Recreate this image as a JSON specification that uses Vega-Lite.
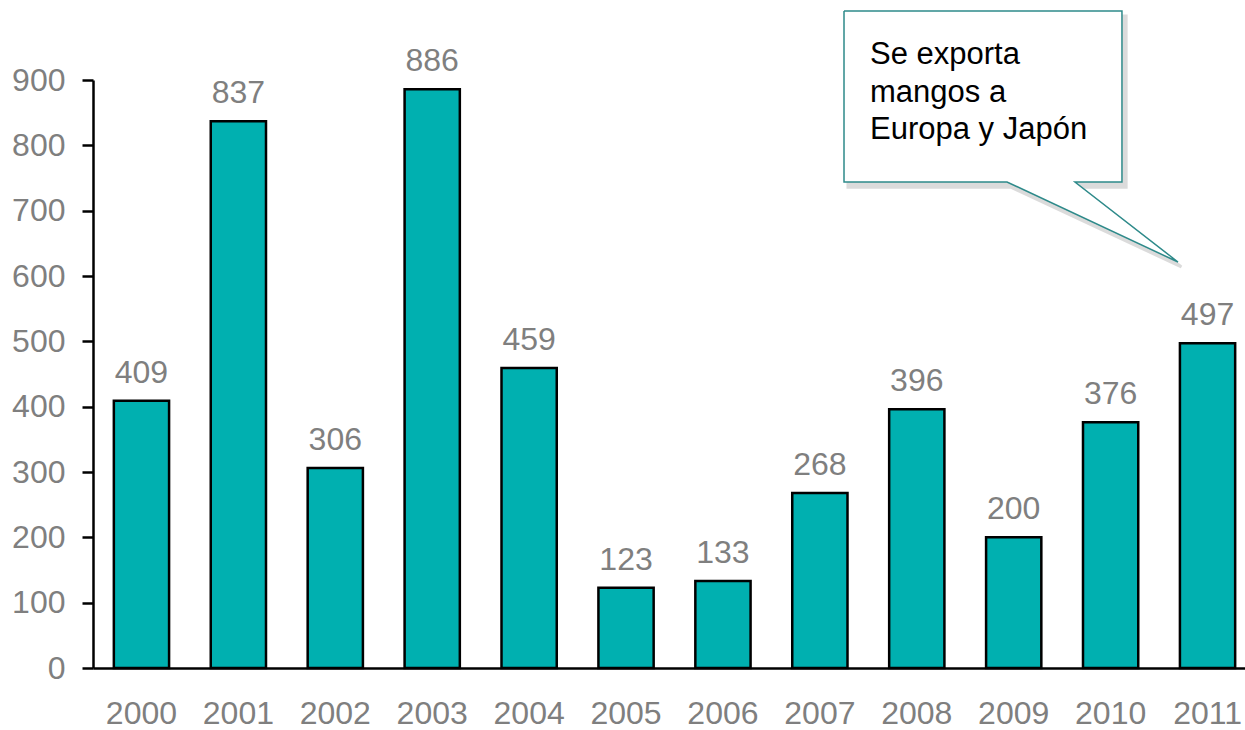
{
  "$schema": "https://vega.github.io/schema/vega-lite/v6.json",
  "width": 1163,
  "height": 588,
  "autosize": {"type": "none"},
  "padding": {"left": 93, "top": 80, "right": 0, "bottom": 62},
  "background": "white",
  "config": {"view": {"stroke": null}, "font": "Liberation Sans"},
  "resolve": {"scale": {"x": "independent", "y": "independent"}, "axis": {"x": "independent", "y": "independent"}},
  "layer": [
    {
      "data": {"values": [
        {"year": "2000", "value": 409}, {"year": "2001", "value": 837},
        {"year": "2002", "value": 306}, {"year": "2003", "value": 886},
        {"year": "2004", "value": 459}, {"year": "2005", "value": 123},
        {"year": "2006", "value": 133}, {"year": "2007", "value": 268},
        {"year": "2008", "value": 396}, {"year": "2009", "value": 200},
        {"year": "2010", "value": 376}, {"year": "2011", "value": 497}
      ]},
      "encoding": {
        "x": {"field": "year", "type": "nominal", "sort": null,
          "scale": {"paddingInner": 0.43, "paddingOuter": 0.215},
          "axis": {"title": null, "labelAngle": 0, "ticks": false, "labelFontSize": 32, "labelColor": "#7f7f7f",
            "labelPadding": 30, "domainColor": "black", "domainWidth": 2.5, "labelFont": "Liberation Sans"}},
        "y": {"field": "value", "type": "quantitative",
          "scale": {"domain": [0, 900], "nice": false},
          "axis": {"title": null, "values": [0,100,200,300,400,500,600,700,800,900], "grid": false,
            "labelFontSize": 32, "labelColor": "#7f7f7f", "labelPadding": 17, "tickSize": 11,
            "tickColor": "black", "tickWidth": 2.5, "domainColor": "black", "domainWidth": 2.5,
            "labelFont": "Liberation Sans"}}
      },
      "layer": [
        {"mark": {"type": "bar", "fill": "#00b0b0", "stroke": "black", "strokeWidth": 2.5}},
        {"mark": {"type": "text", "dy": -18, "baseline": "alphabetic", "fontSize": 32, "fill": "#7f7f7f", "font": "Liberation Sans"},
          "encoding": {"text": {"field": "value", "type": "quantitative"}}}
      ]
    },
    {
      "data": {"values": [
        {"part": "shadow", "o": 1, "cx": 7.79, "cy": 998},
        {"part": "shadow", "o": 2, "cx": 10.66, "cy": 998},
        {"part": "shadow", "o": 3, "cx": 10.66, "cy": 736},
        {"part": "shadow", "o": 4, "cx": 10.17, "cy": 736},
        {"part": "shadow", "o": 5, "cx": 11.23, "cy": 614},
        {"part": "shadow", "o": 6, "cx": 9.47, "cy": 736},
        {"part": "shadow", "o": 7, "cx": 7.79, "cy": 736},
        {"part": "shadow", "o": 8, "cx": 7.79, "cy": 998},
        {"part": "box", "o": 1, "cx": 7.749, "cy": 1005.6},
        {"part": "box", "o": 2, "cx": 10.617, "cy": 1005.6},
        {"part": "box", "o": 3, "cx": 10.617, "cy": 743.9},
        {"part": "box", "o": 4, "cx": 10.132, "cy": 743.9},
        {"part": "box", "o": 5, "cx": 11.195, "cy": 621.4},
        {"part": "box", "o": 6, "cx": 9.431, "cy": 743.9},
        {"part": "box", "o": 7, "cx": 7.749, "cy": 743.9},
        {"part": "box", "o": 8, "cx": 7.749, "cy": 1005.6}
      ]},
      "layer": [
        {
          "transform": [{"filter": "datum.part === 'shadow'"}],
          "mark": {"type": "line", "fill": "#9a9a9a", "stroke": "#9a9a9a", "strokeWidth": 3, "opacity": 0.35, "clip": false},
          "encoding": {
            "x": {"field": "cx", "type": "quantitative", "scale": {"domain": [0, 12], "nice": false, "zero": false}, "axis": null},
            "y": {"field": "cy", "type": "quantitative", "scale": {"domain": [0, 900], "nice": false}, "axis": null},
            "order": {"field": "o", "type": "quantitative"}
          }
        },
        {
          "transform": [{"filter": "datum.part === 'box'"}],
          "mark": {"type": "line", "fill": "white", "stroke": "#2e8a8a", "strokeWidth": 1.5, "strokeJoin": "miter", "clip": false},
          "encoding": {
            "x": {"field": "cx", "type": "quantitative", "scale": {"domain": [0, 12], "nice": false, "zero": false}, "axis": null},
            "y": {"field": "cy", "type": "quantitative", "scale": {"domain": [0, 900], "nice": false}, "axis": null},
            "order": {"field": "o", "type": "quantitative"}
          }
        }
      ],
      "resolve": {"scale": {"x": "shared", "y": "shared"}}
    },
    {
      "data": {"values": [
        {"label": "Se exporta", "tx": 8.017, "ty": 924},
        {"label": "mangos a", "tx": 8.017, "ty": 867},
        {"label": "Europa y Japón", "tx": 8.017, "ty": 810}
      ]},
      "mark": {"type": "text", "align": "left", "baseline": "alphabetic", "fontSize": 31, "fill": "black", "font": "Liberation Sans", "clip": false},
      "encoding": {
        "x": {"field": "tx", "type": "quantitative", "scale": {"domain": [0, 12], "nice": false, "zero": false}, "axis": null},
        "y": {"field": "ty", "type": "quantitative", "scale": {"domain": [0, 900], "nice": false}, "axis": null},
        "text": {"field": "label", "type": "nominal"}
      }
    }
  ]
}
